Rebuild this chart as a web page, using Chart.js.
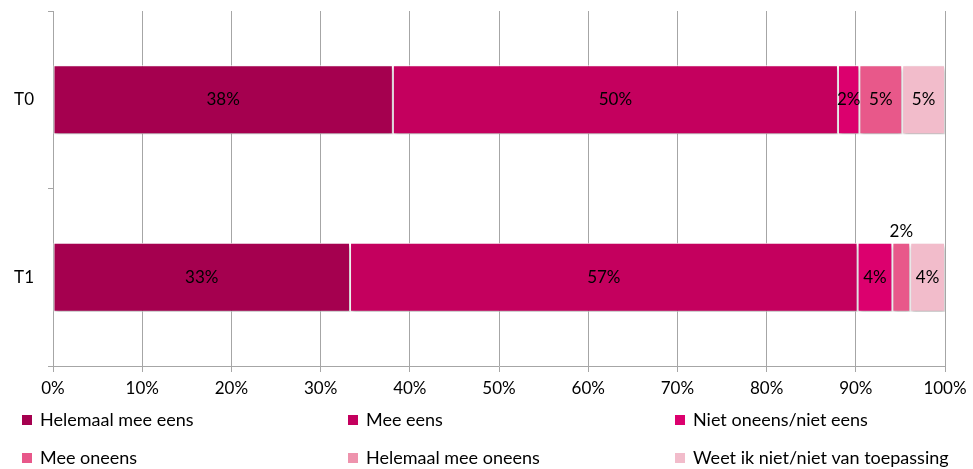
<!DOCTYPE html>
<html>
<head>
<meta charset="utf-8">
<script src="https://cdn.jsdelivr.net/npm/chart.js@4/dist/chart.umd.min.js"></script>
<style>
  html, body { margin: 0; padding: 0; background: #fff; }
  #wrap { width: 973px; height: 469px; position: relative; }
</style>
</head>
<body>
<div id="wrap"><canvas id="barChart"></canvas></div>
<script>
// Data
const categories = ['T0', 'T1'];
const seriesNames = [
  'Helemaal mee eens',
  'Mee eens',
  'Niet oneens/niet eens',
  'Mee oneens',
  'Helemaal mee oneens',
  'Weet ik niet/niet van toepassing',
];
const helemaalMeeEens = [38.1, 33.3];
const meeEens = [49.9, 56.9];
const nietOneens = [2.4, 3.9];
const meeOneens = [4.8, 2.0];
const helemaalMeeOneens = [0, 0];
const weetIkNiet = [4.8, 3.9];
const xTicks = ['0%', '10%', '20%', '30%', '40%', '50%', '60%', '70%', '80%', '90%', '100%'];

const colors = ['#a5004f', '#c4005e', '#dc006e', '#e8588a', '#ee93ad', '#f2bccb'];
const seriesValues = [helemaalMeeEens, meeEens, nietOneens, meeOneens, helemaalMeeOneens, weetIkNiet];

const FONT = 'Lato, "Open Sans", sans-serif';

// Subtle drop shadow under bars
const shadowPlugin = {
  id: 'barShadow',
  beforeDatasetDraw(chart) {
    const ctx = chart.ctx;
    ctx.save();
    ctx.shadowColor = 'rgba(0,0,0,0.28)';
    ctx.shadowBlur = 4;
    ctx.shadowOffsetX = 1;
    ctx.shadowOffsetY = 3;
  },
  afterDatasetDraw(chart) {
    chart.ctx.restore();
  },
};

// Value labels on the segments
const valueLabels = {
  id: 'valueLabels',
  afterDatasetsDraw(chart) {
    const ctx = chart.ctx;
    ctx.save();
    ctx.font = '17px ' + FONT;
    ctx.fillStyle = '#000';
    ctx.textAlign = 'center';
    ctx.textBaseline = 'middle';
    chart.data.datasets.forEach((ds, i) => {
      const meta = chart.getDatasetMeta(i);
      meta.data.forEach((bar, j) => {
        const v = ds.data[j];
        if (!v) return;
        const left = Math.min(bar.x, bar.base);
        const w = Math.abs(bar.x - bar.base);
        const cx = left + w / 2;
        let cy = bar.y;
        if (w < 20) cy = bar.y - bar.height / 2 - 11;
        ctx.fillText(Math.round(v) + '%', cx, cy);
      });
    });
    ctx.restore();
  },
};

// Legend in a 3-column grid below the chart
const gridLegend = {
  id: 'gridLegend',
  afterDraw(chart) {
    const ctx = chart.ctx;
    const cols = [22, 348, 675];
    const rows = [420, 458];
    ctx.save();
    ctx.font = '18px ' + FONT;
    ctx.textBaseline = 'middle';
    ctx.textAlign = 'left';
    chart.data.datasets.forEach((ds, i) => {
      const x = cols[i % 3];
      const y = rows[Math.floor(i / 3)];
      ctx.fillStyle = ds.backgroundColor;
      ctx.fillRect(x, y - 5, 10, 10);
      ctx.fillStyle = '#000';
      ctx.fillText(ds.label, x + 18, y);
    });
    ctx.restore();
  },
};

const barChart = document.getElementById('barChart');

new Chart(barChart, {
  type: 'bar',
  data: {
    labels: categories,
    datasets: seriesNames.map((name, i) => ({
      label: name,
      data: seriesValues[i],
      backgroundColor: colors[i],
      borderColor: '#ffffff',
      borderWidth: 1,
      borderSkipped: false,
      categoryPercentage: 0.39,
      barPercentage: 1,
    })),
  },
  options: {
    indexAxis: 'y',
    responsive: true,
    maintainAspectRatio: false,
    animation: false,
    layout: {
      padding: { top: 11, right: 28, bottom: 71, left: 0 },
    },
    plugins: {
      legend: { display: false },
      tooltip: { enabled: false },
    },
    scales: {
      x: {
        stacked: true,
        min: 0,
        max: 100,
        afterBuildTicks(scale) {
          scale.ticks = xTicks.map((t, i) => ({ value: i * 10 }));
        },
        afterFit(scale) {
          scale.height = 32;
        },
        grid: {
          color: '#a6a6a6',
          tickLength: 6,
          drawOnChartArea: true,
        },
        border: { display: true, color: '#a6a6a6', width: 1 },
        ticks: {
          color: '#000',
          font: { family: FONT, size: 17 },
          padding: 6,
          callback: (value, index) => xTicks[index],
        },
      },
      y: {
        stacked: true,
        afterFit(scale) {
          scale.width = 53;
          scale.paddingTop = 0;
          scale.paddingBottom = 0;
        },
        grid: {
          offset: true,
          drawOnChartArea: false,
          color: '#a6a6a6',
          tickLength: 5,
        },
        border: { display: true, color: '#a6a6a6', width: 1 },
        ticks: {
          color: '#000',
          font: { family: FONT, size: 17 },
          padding: 14,
        },
      },
    },
  },
  plugins: [shadowPlugin, valueLabels, gridLegend],
});
</script>
</body>
</html>
